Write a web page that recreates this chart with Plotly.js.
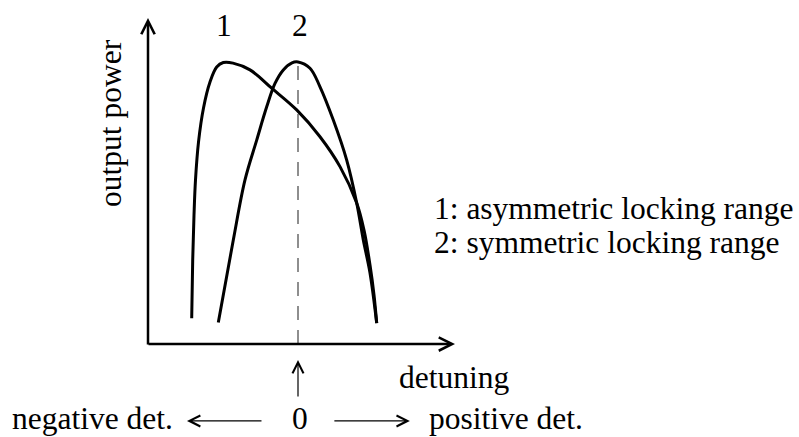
<!DOCTYPE html>
<html>
<head>
<meta charset="utf-8">
<script src="https://cdn.plot.ly/plotly-3.0.1.min.js"></script>
<style>
  html, body { margin: 0; padding: 0; background: #fff; }
  #chart { width: 799px; height: 437px; }
</style>
</head>
<body>
<div id="chart"></div>
<script>
// Output power versus detuning for two injection-locking cases.
// Detuning in arbitrary units (0 = free-running frequency), power normalised to a peak of 10.
const detuning1 = [-10.63, -10.53, -10.4, -10.25, -9.95, -9.45, -8.8, -8.13, -7.47, -6.5, -4.8, -2.63, -0.13, 2.2, 4.2, 5.87, 6.6, 7.2, 7.6, 7.87];
const power1    = [0.91, 2.98, 4.57, 5.82, 7.16, 8.37, 9.29, 9.82, 9.98, 9.96, 9.72, 9.07, 8.30, 7.35, 6.29, 5.0, 4.04, 2.80, 1.74, 0.74];

const detuning2 = [-7.97, -6.47, -5.3, -4.13, -3.13, -2.3, -1.47, -0.6, 0.0, 1.2, 2.2, 3.53, 4.87, 5.87, 6.53, 7.2, 7.87];
const power2    = [0.76, 3.69, 5.82, 7.23, 8.41, 9.24, 9.72, 9.97, 10.0, 9.78, 9.12, 7.94, 6.52, 5.0, 3.69, 2.52, 0.74];

const curveLabels = ['1', '2'];
const legendLines = ['1: asymmetric locking range', '2: symmetric locking range'];
const yTitle = 'output power';
const xTitle = 'detuning';
const zeroLabel = '0';
const negLabel = 'negative det.';
const posLabel = 'positive det.';

const serif = 'Liberation Serif, Times New Roman, serif';
const txt = { family: serif, size: 31.5, color: '#000' };

const curve = (x, y) => ({
  x: x, y: y, type: 'scatter', mode: 'lines',
  line: { color: '#000', width: 3, shape: 'spline', smoothing: 1 },
  hoverinfo: 'skip'
});

// dashed marker at zero detuning, up to the symmetric curve's peak
const peak2 = Math.max(...power2);
const zeroLine = {
  x: [0, 0], y: [0, peak2], type: 'scatter', mode: 'lines',
  line: { color: '#444', width: 1.2, dash: '14px,10px' }, hoverinfo: 'skip'
};

const peakX = (xs, ys) => xs[ys.indexOf(Math.max(...ys))];

const text = (t, x, y, opts) => Object.assign({
  text: t, x: x, y: y, xref: 'paper', yref: 'paper',
  showarrow: false, font: txt, xanchor: 'center', yanchor: 'middle'
}, opts || {});

const arrow = (x, y, ax, ay, w, size, head, xref) => ({
  text: '', x: x, y: y, xref: xref || 'paper', yref: 'paper',
  ax: ax, ay: ay, showarrow: true, arrowhead: head, arrowsize: size,
  arrowwidth: w, arrowcolor: '#000', standoff: 0, startstandoff: 0
});

const annotations = [
  // axes with arrowheads
  arrow(0, 1, 0, 328, 2.5, 1.05, 5),
  arrow(1, 0, -308, 0, 2.5, 1.05, 5),
  // curve numbers over their peaks
  text(curveLabels[0], peakX(detuning1, power1) + 0.1, 11.28, { xref: 'x', yref: 'y' }),
  text(curveLabels[1], peakX(detuning2, power2) + 0.2, 11.28, { xref: 'x', yref: 'y' }),
  // axis titles
  text(yTitle, -0.1205, 0.678, { textangle: -90 }),
  text(xTitle, 0.9967, -0.103),
  // key
  text(legendLines[0], 0.926, 0.417, { xanchor: 'left' }),
  text(legendLines[1], 0.926, 0.310, { xanchor: 'left' }),
  // zero-detuning marker and direction hints
  arrow(0, -0.049, 0, 38, 1.2, 1.8, 5, 'x'),
  text(zeroLabel, 0.2, -0.2285, { xref: 'x' }),
  text(negLabel, -0.4495, -0.2285, { xanchor: 'left' }),
  text(posLabel, 0.9088, -0.2285, { xanchor: 'left' }),
  arrow(0.127, -0.236, 76, 0, 1.2, 1.8, 5),
  arrow(0.853, -0.236, -77, 0, 1.2, 1.8, 5)
];

const layout = {
  width: 799, height: 437,
  margin: { l: 148, r: 344, t: 18, b: 93, pad: 0 },
  paper_bgcolor: '#fff', plot_bgcolor: 'rgba(0,0,0,0)',
  showlegend: false,
  xaxis: { range: [-15, 15.7], visible: false, fixedrange: true },
  yaxis: { range: [0, 11.56], visible: false, fixedrange: true },
  annotations: annotations
};

Plotly.newPlot('chart', [zeroLine, curve(detuning1, power1), curve(detuning2, power2)], layout,
  { staticPlot: true, displayModeBar: false });
</script>
</body>
</html>
